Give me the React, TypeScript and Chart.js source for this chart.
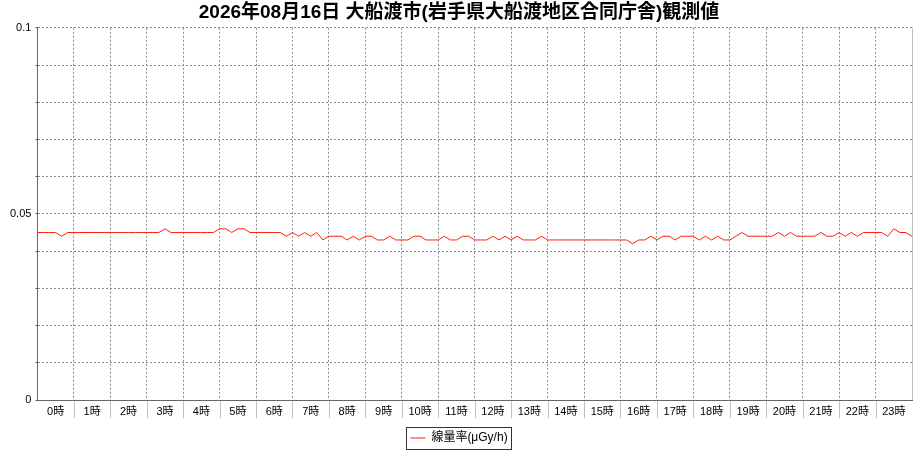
import React, { useEffect, useRef } from 'react';
import { Chart, registerables } from 'chart.js';

Chart.register(...registerables);

// 10-minute readings, 00:00 .. 24:00 (145 points), μGy/h
const dose: number[] = [
  0.045, 0.045, 0.045, 0.045, 0.044, 0.045, // 0時
  0.045, 0.045, 0.045, 0.045, 0.045, 0.045, // 1時
  0.045, 0.045, 0.045, 0.045, 0.045, 0.045, // 2時
  0.045, 0.045, 0.045, 0.046, 0.045, 0.045, // 3時
  0.045, 0.045, 0.045, 0.045, 0.045, 0.045, // 4時
  0.046, 0.046, 0.045, 0.046, 0.046, 0.045, // 5時
  0.045, 0.045, 0.045, 0.045, 0.045, 0.044, // 6時
  0.045, 0.044, 0.045, 0.044, 0.045, 0.043, // 7時
  0.044, 0.044, 0.044, 0.043, 0.044, 0.043, // 8時
  0.044, 0.044, 0.043, 0.043, 0.044, 0.043, // 9時
  0.043, 0.043, 0.044, 0.044, 0.043, 0.043, // 10時
  0.043, 0.044, 0.043, 0.043, 0.044, 0.044, // 11時
  0.043, 0.043, 0.043, 0.044, 0.043, 0.044, // 12時
  0.043, 0.044, 0.043, 0.043, 0.043, 0.044, // 13時
  0.043, 0.043, 0.043, 0.043, 0.043, 0.043, // 14時
  0.043, 0.043, 0.043, 0.043, 0.043, 0.043, // 15時
  0.043, 0.043, 0.042, 0.043, 0.043, 0.044, // 16時
  0.043, 0.044, 0.044, 0.043, 0.044, 0.044, // 17時
  0.044, 0.043, 0.044, 0.043, 0.044, 0.043, // 18時
  0.043, 0.044, 0.045, 0.044, 0.044, 0.044, // 19時
  0.044, 0.044, 0.045, 0.044, 0.045, 0.044, // 20時
  0.044, 0.044, 0.044, 0.045, 0.044, 0.044, // 21時
  0.045, 0.044, 0.045, 0.044, 0.045, 0.045, // 22時
  0.045, 0.045, 0.044, 0.046, 0.045, 0.045, // 23時
  0.044,
];

const hourLabels = [
  '0時', '1時', '2時', '3時', '4時', '5時', '6時', '7時', '8時', '9時', '10時', '11時',
  '12時', '13時', '14時', '15時', '16時', '17時', '18時', '19時', '20時', '21時', '22時', '23時',
];

const yLabelled = [0, 0.05, 0.1];

const title = '2026年08月16日 大船渡市(岩手県大船渡地区合同庁舎)観測値';
const seriesName = '線量率(μGy/h)';

const FONT = "'Liberation Sans', 'Noto Sans CJK JP', sans-serif";
const LINE = 'rgb(255, 30, 10)';
const GRID = '#8c8c8c';

// hour separators under the axis, right edge of the plot, box round the legend
const framePlugin = {
  id: 'frame',
  afterDraw(chart: any) {
    const { ctx, chartArea } = chart;
    const xs = chart.scales.x;
    ctx.save();
    ctx.lineWidth = 1;
    ctx.strokeStyle = '#c0c0c0';
    ctx.beginPath();
    for (let h = 1; h < hourLabels.length; h++) {
      const px = Math.round(xs.getPixelForValue(h * 6)) + 0.5;
      ctx.moveTo(px, chartArea.bottom + 1);
      ctx.lineTo(px, chartArea.bottom + 18);
    }
    ctx.moveTo(Math.round(chartArea.right) + 0.5, chartArea.top);
    ctx.lineTo(Math.round(chartArea.right) + 0.5, chartArea.bottom);
    ctx.stroke();
    const hb = chart.legend && chart.legend.legendHitBoxes && chart.legend.legendHitBoxes[0];
    if (hb) {
      ctx.strokeStyle = '#333333';
      const cy = hb.top + hb.height / 2;
      ctx.strokeRect(
        Math.round(hb.left - 4) + 0.5,
        Math.round(cy - 11) + 0.5,
        Math.round(hb.width + 8),
        22
      );
    }
    ctx.restore();
  },
};

const App: React.FC = () => {
  const chartRef = useRef<HTMLCanvasElement | null>(null);

  useEffect(() => {
    if (!chartRef.current) return;
    const chart = new Chart(chartRef.current, {
      type: 'line',
      data: {
        datasets: [
          {
            label: seriesName,
            data: dose.map((v, i) => ({ x: i, y: v })),
            borderColor: LINE,
            backgroundColor: LINE,
            borderWidth: 1,
            pointRadius: 0,
            tension: 0,
            fill: false,
          },
        ],
      },
      options: {
        animation: false,
        responsive: true,
        maintainAspectRatio: false,
        layout: { padding: { left: 6, right: 8, top: 0, bottom: -4 } },
        plugins: {
          title: {
            display: true,
            text: title,
            color: '#000',
            font: { family: FONT, size: 19, weight: 'bold' },
            padding: { top: 1, bottom: 4 },
          },
          legend: {
            position: 'bottom',
            labels: {
              usePointStyle: true,
              pointStyle: 'line',
              pointStyleWidth: 15,
              color: '#000',
              font: { family: FONT, size: 12 },
              padding: 4,
            },
          },
          tooltip: { enabled: false },
        },
        scales: {
          x: {
            type: 'linear',
            min: 0,
            max: 144,
            afterFit: (s: any) => {
              s.height = 28;
            },
            ticks: {
              stepSize: 3,
              autoSkip: false,
              maxRotation: 0,
              padding: 5,
              color: '#000',
              font: { family: FONT, size: 11 },
              callback: (v: any) => (Number(v) % 6 === 3 ? hourLabels[(Number(v) - 3) / 6] : ''),
            },
            grid: {
              color: (c: any) => (c.tick && c.tick.value % 6 === 0 ? GRID : 'transparent'),
              drawTicks: false,
            },
            border: { color: '#666666', dash: [2, 2] },
          },
          y: {
            min: 0,
            max: 0.1,
            ticks: {
              stepSize: 0.01,
              padding: 4,
              color: '#000',
              font: { family: FONT, size: 11 },
              callback: (v: any) => {
                const hit = yLabelled.find((t) => Math.abs(t - Number(v)) < 1e-9);
                return hit === undefined ? '' : String(hit);
              },
            },
            grid: { color: GRID, tickColor: '#666666', tickLength: 2 },
            border: { color: '#666666', dash: [2, 2] },
          },
        },
      },
      plugins: [framePlugin],
    });

    return () => {
      chart.destroy();
    };
  }, []);

  return (
    <div style={{ position: 'absolute', left: 0, top: 0, width: 920, height: 450, background: '#fff' }}>
      <canvas ref={chartRef} />
    </div>
  );
};

export default App;
